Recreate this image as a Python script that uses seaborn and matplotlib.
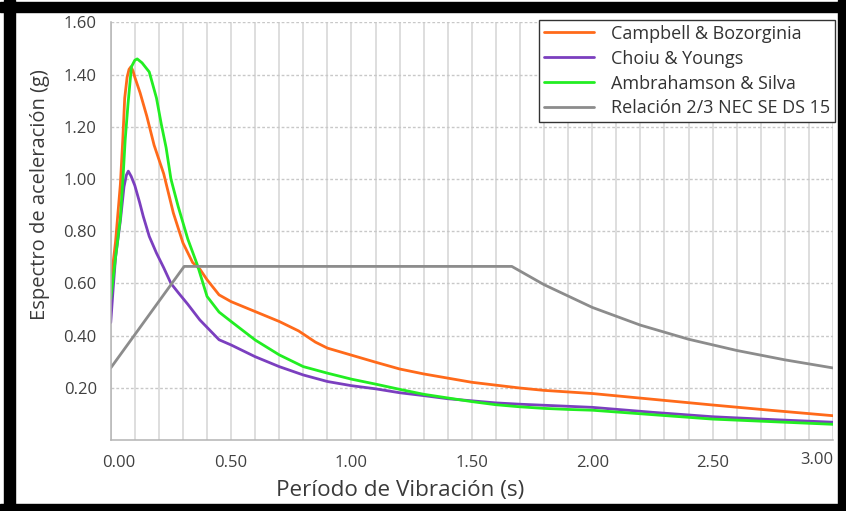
import seaborn as sns
import matplotlib.pyplot as plt
import matplotlib.transforms as mtransforms
import pandas as pd
from matplotlib.patches import Rectangle

# Periodo (s) / Sa (g)
t_cb = [0, 0.02, 0.04, 0.05, 0.058, 0.068, 0.076, 0.084, 0.092, 0.10, 0.122, 0.15, 0.18, 0.22,
        0.26, 0.30, 0.34, 0.37, 0.40, 0.45, 0.50, 0.60, 0.70, 0.78, 0.85, 0.90, 1.0, 1.1,
        1.2, 1.3, 1.4, 1.5, 1.6, 1.7, 1.8, 1.9, 2.0, 2.25, 2.5, 2.75, 3.0]
sa_cb = [0.60, 0.76, 0.98, 1.15, 1.31, 1.39, 1.42, 1.43, 1.415, 1.39, 1.33, 1.24, 1.13, 1.02,
         0.87, 0.755, 0.68, 0.655, 0.614, 0.556, 0.530, 0.492, 0.454, 0.418, 0.375, 0.352,
         0.325, 0.298, 0.272, 0.253, 0.237, 0.221, 0.210, 0.199, 0.190, 0.184, 0.178, 0.156,
         0.134, 0.113, 0.093]

t_cy = [0, 0.01, 0.02, 0.04, 0.055, 0.065, 0.073, 0.085, 0.10, 0.12, 0.135, 0.16, 0.19, 0.22,
        0.25, 0.28, 0.32, 0.37, 0.45, 0.50, 0.60, 0.70, 0.80, 0.90, 1.0, 1.1, 1.2, 1.3, 1.4,
        1.5, 1.6, 1.7, 1.8, 1.9, 2.0, 2.25, 2.5, 2.75, 3.0]
sa_cy = [0.45, 0.58, 0.70, 0.84, 0.97, 1.015, 1.03, 1.01, 0.975, 0.91, 0.857, 0.78, 0.716, 0.66,
         0.60, 0.565, 0.52, 0.46, 0.384, 0.364, 0.319, 0.281, 0.249, 0.224, 0.208, 0.196, 0.181,
         0.170, 0.158, 0.150, 0.142, 0.137, 0.133, 0.129, 0.125, 0.106, 0.089, 0.078, 0.068]

t_as = [0, 0.02, 0.04, 0.052, 0.06, 0.072, 0.086, 0.10, 0.11, 0.13, 0.16, 0.19, 0.21, 0.23,
        0.25, 0.28, 0.32, 0.36, 0.40, 0.45, 0.50, 0.60, 0.70, 0.80, 0.90, 1.0, 1.1, 1.2,
        1.3, 1.4, 1.5, 1.6, 1.7, 1.8, 1.9, 2.0, 2.25, 2.5, 2.75, 3.0]
sa_as = [0.54, 0.70, 0.85, 1.02, 1.15, 1.29, 1.43, 1.455, 1.46, 1.445, 1.41, 1.31, 1.21, 1.12,
         1.00, 0.895, 0.77, 0.67, 0.55, 0.49, 0.454, 0.383, 0.326, 0.281, 0.256, 0.233, 0.214,
         0.194, 0.175, 0.161, 0.147, 0.135, 0.127, 0.121, 0.117, 0.114, 0.097, 0.080, 0.070, 0.060]

t_nec = [0, 0.305, 1.666, 1.8, 2.0, 2.2, 2.4, 2.6, 2.8, 3.0]
sa_nec = [0.276, 0.665, 0.665, 0.595, 0.508, 0.440, 0.386, 0.343, 0.307, 0.276]

labels = ['Campbell & Bozorginia', 'Choiu & Youngs', 'Ambrahamson & Silva',
          'Relación 2/3 NEC SE DS 15']
colors = ['#ff6a1a', '#7b3fbf', '#22ee22', '#8c8c8c']

x_ticks = [0, 0.5, 1.0, 1.5, 2.0, 2.5, 3.0]
y_ticks = [0.2, 0.4, 0.6, 0.8, 1.0, 1.2, 1.4, 1.6]

frames = []
for t, sa, lab in zip([t_cb, t_cy, t_as, t_nec], [sa_cb, sa_cy, sa_as, sa_nec], labels):
    frames.append(pd.DataFrame({'T': t, 'Sa': sa, 'serie': lab}))
df = pd.concat(frames, ignore_index=True)

sns.set_style('white')
plt.rcParams['font.family'] = ['Open Sans', 'DejaVu Sans']

fig = plt.figure(figsize=(8.46, 5.11), dpi=100)
ax = fig.add_axes([0.1309, 0.139, 0.8537, 0.8172])

sns.lineplot(data=df, x='T', y='Sa', hue='serie', hue_order=labels, palette=colors,
             estimator=None, sort=False, linewidth=2.0, ax=ax)

ax.set_xlim(0, 3.0)
ax.set_ylim(0, 1.6)

# grid: vertical every 0.1, horizontal every 0.2
for i in range(31):
    ax.axvline(i / 10, color='#d4d4d4', lw=1.1, zorder=0)
for v in y_ticks:
    ax.axhline(v, color='#c8c8c8', lw=1.0, ls=(0, (2, 1.5)), zorder=0)

ax.set_xticks(x_ticks)
ax.set_xticklabels(['%.2f' % v for v in x_ticks])
ax.set_yticks(y_ticks)
ax.set_yticklabels(['%.2f' % v for v in y_ticks])
ax.tick_params(axis='both', length=4, width=1, color='#b0b0b0', labelsize=12,
               labelcolor='#404040', pad=6)
ax.tick_params(axis='x', pad=7)

xl = ax.get_xticklabels()
xl[0].set_transform(xl[0].get_transform() + mtransforms.ScaledTranslation(8 / 100, 0, fig.dpi_scale_trans))
xl[-1].set_horizontalalignment('right')
xl[-1].set_transform(xl[-1].get_transform() + mtransforms.ScaledTranslation(0, 3 / 100, fig.dpi_scale_trans))

for s in ['top', 'right']:
    ax.spines[s].set_visible(False)
for s in ['left', 'bottom']:
    ax.spines[s].set_color('#b4b4b4')
    ax.spines[s].set_linewidth(1.1)

ax.set_xlabel('Período de Vibración (s)', fontsize=16.2, color='#3a3a3a')
ax.set_ylabel('Espectro de aceleración (g)', fontsize=14.5, color='#3a3a3a')
ax.xaxis.set_label_coords(0.40, -0.122)
ax.yaxis.set_label_coords(-0.098, 0.587)
ax.xaxis.label.set_va('center')
ax.yaxis.label.set_va('center')

handles, labs = ax.get_legend_handles_labels()
leg = ax.legend(handles, labs, loc='upper right', bbox_to_anchor=(1.003, 1.005),
                borderaxespad=0, fontsize=13, handlelength=2.8, handletextpad=0.95,
                labelspacing=0.38, borderpad=0.25, fancybox=False, framealpha=1)
leg.get_frame().set_edgecolor('#333333')
leg.get_frame().set_linewidth(1.0)
for txt in leg.get_texts():
    txt.set_color('#333333')

# black frame around the picture
W, H = 846, 511
for (x0, y0, w, h) in [(4, 0, 11, H), (0, H - 12, W, 10), (0, 0, W, 7), (838, 0, 8, H)]:
    fig.patches.append(Rectangle((x0 / W, y0 / H), w / W, h / H, transform=fig.transFigure,
                                 color='black', zorder=10))

fig.savefig('out.png', dpi=100)
